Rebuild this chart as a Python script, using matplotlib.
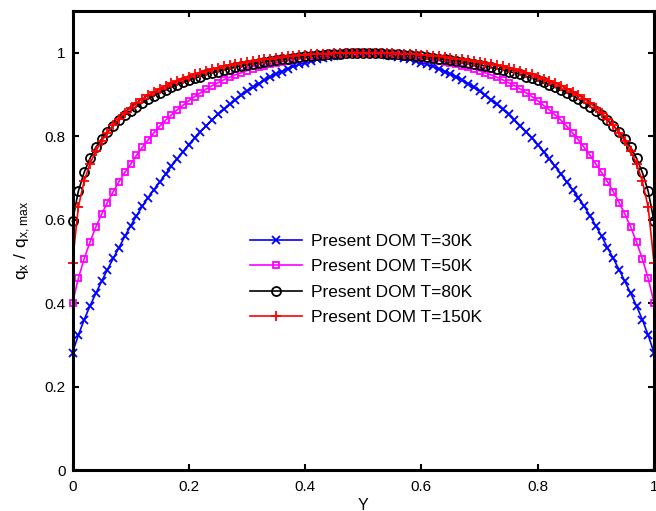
#!/usr/bin/env python3
"""Normalised heat-flux profile q_x / q_x,max across the channel (DOM)."""

import numpy as np
import matplotlib
matplotlib.use("Agg")
import matplotlib.pyplot as plt

plt.rcParams["font.family"] = ["Liberation Sans", "DejaVu Sans"]

# sample positions across the channel, 0.01 apart
Y_POS = np.linspace(0.0, 1.0, 101)

Q_30K = [
    0.281, 0.323, 0.360, 0.393, 0.423, 0.452, 0.480, 0.507, 0.533, 0.560,
    0.585, 0.609, 0.632, 0.653, 0.672, 0.690, 0.709, 0.728, 0.746, 0.763,
    0.780, 0.796, 0.811, 0.825, 0.839, 0.852, 0.864, 0.876, 0.887, 0.898,
    0.908, 0.917, 0.926, 0.934, 0.942, 0.949, 0.955, 0.961, 0.967, 0.972,
    0.976, 0.980, 0.984, 0.987, 0.990, 0.993, 0.995, 0.997, 0.998, 0.999,
    1.000,
    0.999, 0.998, 0.997, 0.995, 0.993, 0.990, 0.987, 0.984, 0.980, 0.976,
    0.972, 0.967, 0.961, 0.955, 0.949, 0.942, 0.934, 0.926, 0.917, 0.908,
    0.898, 0.887, 0.876, 0.864, 0.852, 0.839, 0.825, 0.811, 0.796, 0.780,
    0.763, 0.746, 0.728, 0.709, 0.690, 0.672, 0.653, 0.632, 0.609, 0.585,
    0.560, 0.533, 0.507, 0.480, 0.452, 0.423, 0.393, 0.360, 0.323, 0.281,
]

Q_50K = [
    0.401, 0.459, 0.506, 0.546, 0.582, 0.613, 0.641, 0.667, 0.691, 0.713,
    0.733, 0.754, 0.773, 0.791, 0.808, 0.824, 0.838, 0.851, 0.863, 0.874,
    0.885, 0.895, 0.904, 0.913, 0.921, 0.928, 0.935, 0.941, 0.947, 0.952,
    0.957, 0.961, 0.965, 0.969, 0.972, 0.975, 0.978, 0.981, 0.984, 0.986,
    0.988, 0.990, 0.992, 0.994, 0.995, 0.996, 0.997, 0.998, 0.999, 1.000,
    1.000,
    1.000, 0.999, 0.998, 0.997, 0.996, 0.995, 0.994, 0.992, 0.990, 0.988,
    0.986, 0.984, 0.981, 0.978, 0.975, 0.972, 0.969, 0.965, 0.961, 0.957,
    0.952, 0.947, 0.941, 0.935, 0.928, 0.921, 0.913, 0.904, 0.895, 0.885,
    0.874, 0.863, 0.851, 0.838, 0.824, 0.808, 0.791, 0.773, 0.754, 0.733,
    0.713, 0.691, 0.667, 0.641, 0.613, 0.582, 0.546, 0.506, 0.459, 0.401,
]

Q_80K = [
    0.596, 0.668, 0.713, 0.747, 0.773, 0.793, 0.810, 0.825, 0.838, 0.850,
    0.861, 0.871, 0.880, 0.889, 0.897, 0.904, 0.911, 0.917, 0.923, 0.929,
    0.934, 0.939, 0.943, 0.948, 0.952, 0.955, 0.959, 0.962, 0.965, 0.968,
    0.971, 0.974, 0.976, 0.978, 0.980, 0.982, 0.984, 0.986, 0.988, 0.990,
    0.991, 0.993, 0.994, 0.995, 0.996, 0.997, 0.998, 0.999, 1.000, 1.000,
    1.000,
    1.000, 1.000, 0.999, 0.998, 0.997, 0.996, 0.995, 0.994, 0.993, 0.991,
    0.990, 0.988, 0.986, 0.984, 0.982, 0.980, 0.978, 0.976, 0.974, 0.971,
    0.968, 0.965, 0.962, 0.959, 0.955, 0.952, 0.948, 0.943, 0.939, 0.934,
    0.929, 0.923, 0.917, 0.911, 0.904, 0.897, 0.889, 0.880, 0.871, 0.861,
    0.850, 0.838, 0.825, 0.810, 0.793, 0.773, 0.747, 0.713, 0.668, 0.596,
]

Q_150K = [
    0.497, 0.630, 0.692, 0.734, 0.764, 0.788, 0.808, 0.826, 0.842, 0.856,
    0.868, 0.879, 0.889, 0.898, 0.906, 0.914, 0.921, 0.927, 0.933, 0.938,
    0.943, 0.948, 0.952, 0.956, 0.960, 0.963, 0.967, 0.970, 0.973, 0.975,
    0.978, 0.980, 0.982, 0.984, 0.986, 0.988, 0.990, 0.991, 0.992, 0.994,
    0.995, 0.996, 0.997, 0.998, 0.998, 0.999, 0.999, 1.000, 1.000, 1.000,
    1.000,
    1.000, 1.000, 1.000, 0.999, 0.999, 0.998, 0.998, 0.997, 0.996, 0.995,
    0.994, 0.992, 0.991, 0.990, 0.988, 0.986, 0.984, 0.982, 0.980, 0.978,
    0.975, 0.973, 0.970, 0.967, 0.963, 0.960, 0.956, 0.952, 0.948, 0.943,
    0.938, 0.933, 0.927, 0.921, 0.914, 0.906, 0.898, 0.889, 0.879, 0.868,
    0.856, 0.842, 0.826, 0.808, 0.788, 0.764, 0.734, 0.692, 0.630, 0.497,
]

LABELS = ["Present DOM T=30K", "Present DOM T=50K",
          "Present DOM T=80K", "Present DOM T=150K"]

X_TICKS = [0, 0.2, 0.4, 0.6, 0.8, 1]
Y_TICKS = [0, 0.2, 0.4, 0.6, 0.8, 1]
TICK_LABELS = ["0", "0.2", "0.4", "0.6", "0.8", "1"]

# (color, marker, markersize)
STYLES = [
    ("#0000ff", "x", 5.5),
    ("#ff00ff", "s", 5.0),
    ("#000000", "o", 6.5),
    ("#ff0000", "+", 7.5),
]


def main():
    fig = plt.figure(figsize=(6.56, 5.11), dpi=100)
    ax = fig.add_axes([72.5 / 656, 41 / 511, 581.5 / 656, 459 / 511])

    for q, label, (color, marker, ms) in zip(
            [Q_30K, Q_50K, Q_80K, Q_150K], LABELS, STYLES):
        ax.plot(Y_POS, q, color=color, marker=marker, markersize=ms,
                markerfacecolor="none", markeredgecolor=color,
                markeredgewidth=1.3, linewidth=1.2, label=label,
                clip_on=False)

    ax.set_xlim(0, 1)
    ax.set_ylim(0, 1.1)
    ax.set_xticks(X_TICKS)
    ax.set_xticklabels(TICK_LABELS)
    ax.set_yticks(Y_TICKS)
    ax.set_yticklabels(TICK_LABELS)

    ax.tick_params(direction="in", length=4, width=1.5, labelsize=11,
                   top=True, right=True)
    ax.tick_params(axis="x", pad=7)
    ax.tick_params(axis="y", pad=5)
    for sp in ax.spines.values():
        sp.set_linewidth(2.2)

    # the reference image is cropped just below the "Y" label
    ax.set_xlabel("Y", fontsize=11.5, labelpad=3)
    ax.set_ylabel(r"$\mathregular{q_x\ /\ q_{x,max}}$", fontsize=12.5,
                  labelpad=8)

    ax.legend(loc="upper left", bbox_to_anchor=(250 / 656, 1 - 234 / 511),
              bbox_transform=fig.transFigure, frameon=False, fontsize=12.5,
              numpoints=1, handlelength=3.0, handletextpad=0.5,
              labelspacing=0.58, borderpad=0, borderaxespad=0)

    fig.savefig("out.png", dpi=100)
    plt.close(fig)


if __name__ == "__main__":
    main()
